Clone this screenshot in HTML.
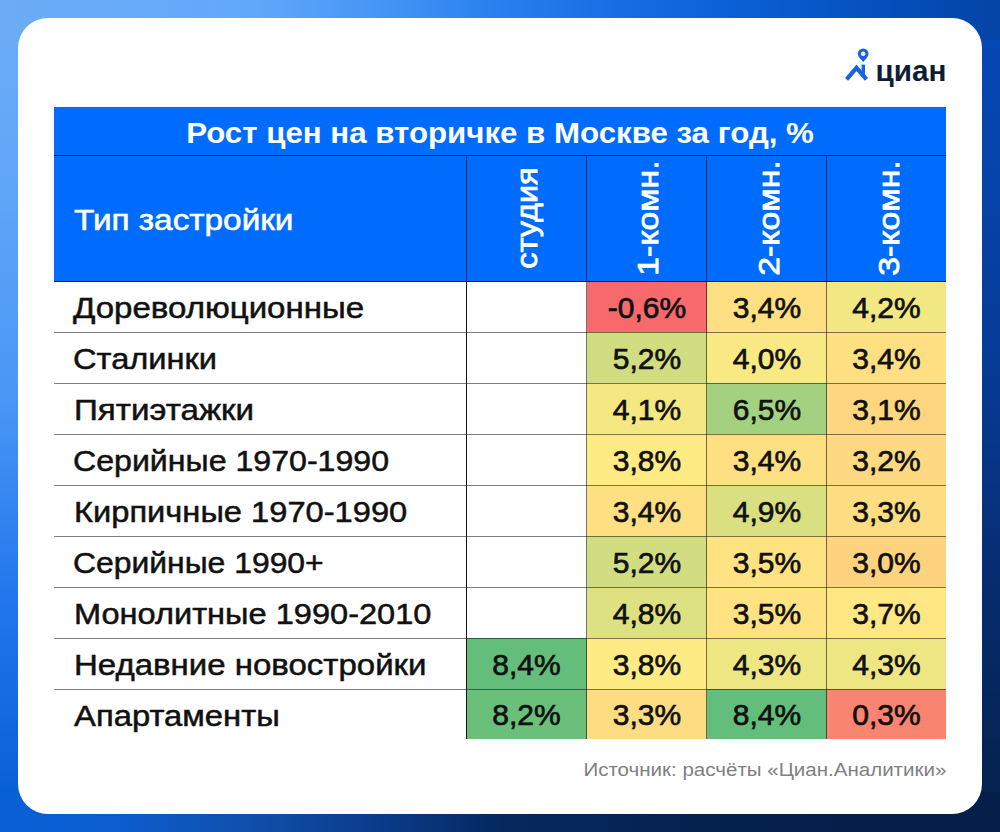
<!DOCTYPE html>
<html><head><meta charset="utf-8"><style>
*{margin:0;padding:0;box-sizing:border-box}
html,body{width:1000px;height:832px;overflow:hidden}
body{position:relative;font-family:"Liberation Sans",sans-serif;background:#0a4fc0}
.a{position:absolute}
.st{position:absolute}
.card{position:absolute;left:18px;top:18px;width:964px;height:796px;background:#fff;border-radius:30px}
.title{left:54px;top:107px;width:892px;height:48px;background:#006cfd}
.title span{position:absolute;left:50%;top:1.5px;line-height:48px;color:#fff;font-weight:bold;font-size:29px;white-space:nowrap;transform:translateX(-50%) scaleX(1.077)}
.hdr{top:155px;height:126px;background:#006cfd}
.hl{left:54px;width:892px;height:1.5px;background:#061650}
.vh{top:155px;width:1px;height:126px;background:#0a2a7a}
.rot{position:absolute;top:155px;height:126px;width:120px;color:#fff;font-size:30px}
.rot span{position:absolute;left:50%;top:50%;white-space:nowrap;-webkit-text-stroke:0.8px #fff}
.lab{position:absolute;font-size:29px;color:#111;white-space:nowrap;transform-origin:0 50%;-webkit-text-stroke:0.5px #111}
.c{position:absolute;text-align:center;font-size:30px;color:#111;-webkit-text-stroke:0.7px #111}
.rl{position:absolute;left:54px;width:892px;height:1px;background:rgba(0,0,0,.5)}
.vl{position:absolute;top:281px;width:1px;height:458px;background:rgba(0,0,0,.55)}
</style></head><body>
<div class="st" style="left:0;top:0;width:1000px;height:50px;background:linear-gradient(to right,#6cacf6 0px,#62a8fa 250px,#4696f5 375px,#2880ee 500px,#166ce1 625px,#0a5ed2 750px,#0550be 875px,#0444a5 1000px)"></div>
<div class="st" style="left:0;top:782px;width:1000px;height:50px;background:linear-gradient(to right,#0860d7 0px,#0c5ccd 125px,#1050aa 250px,#0a3c8c 375px,#05295f 500px,#04204c 750px,#041f4a 1000px)"></div>
<div class="st" style="left:0;top:40px;width:50px;height:752px;background:linear-gradient(to bottom,#6aabf6 0px,#5fa5f8 160px,#4896f5 360px,#2376eb 560px,#0860d7 752px)"></div>
<div class="st" style="left:950px;top:40px;width:50px;height:752px;background:linear-gradient(to bottom,#0648b4 0px,#0543a8 160px,#07388e 380px,#062b6c 560px,#05224f 752px)"></div>
<div class="card"></div>

<!-- logo -->
<svg class="a" style="left:840px;top:40px" width="110" height="48" viewBox="840 40 110 48">
 <path d="M863.2 48.4a5.4 5.4 0 0 1 5.4 5.4c0 3-2.6 5.2-5.4 8.1c-2.8-2.9-5.4-5.1-5.4-8.1a5.4 5.4 0 0 1 5.4-5.4z" fill="#1565e0"/>
 <circle cx="863.2" cy="53.8" r="2.3" fill="#fff"/>
 <path d="M846.6 79.3 L856.5 67.8 L866.5 79.3" fill="none" stroke="#1565e0" stroke-width="4.2" stroke-linejoin="miter"/>
 <rect x="861.6" y="64.6" width="3.4" height="12" fill="#1565e0"/>
 <text x="875.5" y="80.5" font-family="Liberation Sans" font-weight="bold" font-size="30" fill="#0f1c36" textLength="70.9" lengthAdjust="spacingAndGlyphs">циан</text>
</svg>

<div class="a title"><span>Рост цен на вторичке в Москве за год, %</span></div>
<div class="a hdr" style="left:54px;width:892px"></div>
<div class="a hl" style="top:154.5px"></div>
<div class="a" style="left:74.0px;top:157px;height:126px;line-height:126px;color:#fff;font-size:29px;white-space:nowrap;transform-origin:0 50%;transform:scaleX(1.1492);-webkit-text-stroke:0.55px #fff">Тип застройки</div>
<div class="a vh" style="left:466px"></div>
<div class="a vh" style="left:586px"></div>
<div class="a vh" style="left:706px"></div>
<div class="a vh" style="left:826px"></div>
<div class="rot" style="left:467px"><span style="transform:translate(-50%,-50%) rotate(-90deg) scaleX(1.083)">студия</span></div>
<div class="rot" style="left:587.5px"><span style="transform:translate(-50%,-50%) rotate(-90deg) scaleX(1.127)">1-комн.</span></div>
<div class="rot" style="left:708.5px"><span style="transform:translate(-50%,-50%) rotate(-90deg) scaleX(1.128)">2-комн.</span></div>
<div class="rot" style="left:828.5px"><span style="transform:translate(-50%,-50%) rotate(-90deg) scaleX(1.128)">3-комн.</span></div>

<div class="lab" style="left:73.1px;top:283px;height:51px;line-height:51px;transform:scaleX(1.1392)">Дореволюционные</div>
<div class="a" style="left:587px;top:281px;width:120px;height:51px;background:#f8696b"></div>
<div class="c" style="left:587px;top:281.5px;width:120px;height:51px;line-height:51px">-0,6%</div>
<div class="a" style="left:707px;top:281px;width:120px;height:51px;background:#fedf82"></div>
<div class="c" style="left:707px;top:281.5px;width:120px;height:51px;line-height:51px">3,4%</div>
<div class="a" style="left:827px;top:281px;width:119px;height:51px;background:#f1e783"></div>
<div class="c" style="left:827px;top:281.5px;width:119px;height:51px;line-height:51px">4,2%</div>
<div class="lab" style="left:73.3px;top:334px;height:51px;line-height:51px;transform:scaleX(1.1248)">Сталинки</div>
<div class="a" style="left:587px;top:332px;width:120px;height:51px;background:#d0dd81"></div>
<div class="c" style="left:587px;top:332.5px;width:120px;height:51px;line-height:51px">5,2%</div>
<div class="a" style="left:707px;top:332px;width:120px;height:51px;background:#f8e984"></div>
<div class="c" style="left:707px;top:332.5px;width:120px;height:51px;line-height:51px">4,0%</div>
<div class="a" style="left:827px;top:332px;width:119px;height:51px;background:#fedf82"></div>
<div class="c" style="left:827px;top:332.5px;width:119px;height:51px;line-height:51px">3,4%</div>
<div class="lab" style="left:73.8px;top:385px;height:51px;line-height:51px;transform:scaleX(1.1429)">Пятиэтажки</div>
<div class="a" style="left:587px;top:383px;width:120px;height:51px;background:#f5e883"></div>
<div class="c" style="left:587px;top:383.5px;width:120px;height:51px;line-height:51px">4,1%</div>
<div class="a" style="left:707px;top:383px;width:120px;height:51px;background:#a3d17f"></div>
<div class="c" style="left:707px;top:383.5px;width:120px;height:51px;line-height:51px">6,5%</div>
<div class="a" style="left:827px;top:383px;width:119px;height:51px;background:#fed680"></div>
<div class="c" style="left:827px;top:383.5px;width:119px;height:51px;line-height:51px">3,1%</div>
<div class="lab" style="left:73.3px;top:436px;height:51px;line-height:51px;transform:scaleX(1.1077)">Серийные 1970-1990</div>
<div class="a" style="left:587px;top:434px;width:120px;height:51px;background:#ffeb84"></div>
<div class="c" style="left:587px;top:434.5px;width:120px;height:51px;line-height:51px">3,8%</div>
<div class="a" style="left:707px;top:434px;width:120px;height:51px;background:#fedf82"></div>
<div class="c" style="left:707px;top:434.5px;width:120px;height:51px;line-height:51px">3,4%</div>
<div class="a" style="left:827px;top:434px;width:119px;height:51px;background:#fed981"></div>
<div class="c" style="left:827px;top:434.5px;width:119px;height:51px;line-height:51px">3,2%</div>
<div class="lab" style="left:73.7px;top:487px;height:51px;line-height:51px;transform:scaleX(1.1259)">Кирпичные 1970-1990</div>
<div class="a" style="left:587px;top:485px;width:120px;height:51px;background:#fedf82"></div>
<div class="c" style="left:587px;top:485.5px;width:120px;height:51px;line-height:51px">3,4%</div>
<div class="a" style="left:707px;top:485px;width:120px;height:51px;background:#dae082"></div>
<div class="c" style="left:707px;top:485.5px;width:120px;height:51px;line-height:51px">4,9%</div>
<div class="a" style="left:827px;top:485px;width:119px;height:51px;background:#fedc81"></div>
<div class="c" style="left:827px;top:485.5px;width:119px;height:51px;line-height:51px">3,3%</div>
<div class="lab" style="left:73.3px;top:538px;height:51px;line-height:51px;transform:scaleX(1.0991)">Серийные 1990+</div>
<div class="a" style="left:587px;top:536px;width:120px;height:51px;background:#d0dd81"></div>
<div class="c" style="left:587px;top:536.5px;width:120px;height:51px;line-height:51px">5,2%</div>
<div class="a" style="left:707px;top:536px;width:120px;height:51px;background:#ffe282"></div>
<div class="c" style="left:707px;top:536.5px;width:120px;height:51px;line-height:51px">3,5%</div>
<div class="a" style="left:827px;top:536px;width:119px;height:51px;background:#fed37f"></div>
<div class="c" style="left:827px;top:536.5px;width:119px;height:51px;line-height:51px">3,0%</div>
<div class="lab" style="left:73.8px;top:589px;height:51px;line-height:51px;transform:scaleX(1.1232)">Монолитные 1990-2010</div>
<div class="a" style="left:587px;top:587px;width:120px;height:51px;background:#dde182"></div>
<div class="c" style="left:587px;top:587.5px;width:120px;height:51px;line-height:51px">4,8%</div>
<div class="a" style="left:707px;top:587px;width:120px;height:51px;background:#ffe282"></div>
<div class="c" style="left:707px;top:587.5px;width:120px;height:51px;line-height:51px">3,5%</div>
<div class="a" style="left:827px;top:587px;width:119px;height:51px;background:#ffe883"></div>
<div class="c" style="left:827px;top:587.5px;width:119px;height:51px;line-height:51px">3,7%</div>
<div class="lab" style="left:73.5px;top:640px;height:51px;line-height:51px;transform:scaleX(1.1379)">Недавние новостройки</div>
<div class="a" style="left:466px;top:638px;width:121px;height:51px;background:#63be7b"></div>
<div class="c" style="left:466px;top:638.5px;width:121px;height:51px;line-height:51px">8,4%</div>
<div class="a" style="left:587px;top:638px;width:120px;height:51px;background:#ffeb84"></div>
<div class="c" style="left:587px;top:638.5px;width:120px;height:51px;line-height:51px">3,8%</div>
<div class="a" style="left:707px;top:638px;width:120px;height:51px;background:#eee683"></div>
<div class="c" style="left:707px;top:638.5px;width:120px;height:51px;line-height:51px">4,3%</div>
<div class="a" style="left:827px;top:638px;width:119px;height:51px;background:#eee683"></div>
<div class="c" style="left:827px;top:638.5px;width:119px;height:51px;line-height:51px">4,3%</div>
<div class="lab" style="left:73.5px;top:691px;height:50px;line-height:50px;transform:scaleX(1.1311)">Апартаменты</div>
<div class="a" style="left:466px;top:689px;width:121px;height:50px;background:#6ac07b"></div>
<div class="c" style="left:466px;top:689.5px;width:121px;height:50px;line-height:50px">8,2%</div>
<div class="a" style="left:587px;top:689px;width:120px;height:50px;background:#fedc81"></div>
<div class="c" style="left:587px;top:689.5px;width:120px;height:50px;line-height:50px">3,3%</div>
<div class="a" style="left:707px;top:689px;width:120px;height:50px;background:#63be7b"></div>
<div class="c" style="left:707px;top:689.5px;width:120px;height:50px;line-height:50px">8,4%</div>
<div class="a" style="left:827px;top:689px;width:119px;height:50px;background:#f98470"></div>
<div class="c" style="left:827px;top:689.5px;width:119px;height:50px;line-height:50px">0,3%</div>
<div class="rl" style="top:332px"></div>
<div class="rl" style="top:383px"></div>
<div class="rl" style="top:434px"></div>
<div class="rl" style="top:485px"></div>
<div class="rl" style="top:536px"></div>
<div class="rl" style="top:587px"></div>
<div class="rl" style="top:638px"></div>
<div class="rl" style="top:689px"></div>
<div class="vl" style="left:586px"></div>
<div class="vl" style="left:706px"></div>
<div class="vl" style="left:826px"></div>
<div class="a" style="left:465.5px;top:281px;width:1.8px;height:458px;background:#111"></div>
<div class="a hl" style="top:280.5px"></div>

<div class="a" style="right:54px;top:758.5px;font-size:18px;line-height:22px;color:#7f7f7f;white-space:nowrap;transform-origin:100% 50%;transform:scaleX(1.14)">Источник: расчёты «Циан.Аналитики»</div>
</body></html>
